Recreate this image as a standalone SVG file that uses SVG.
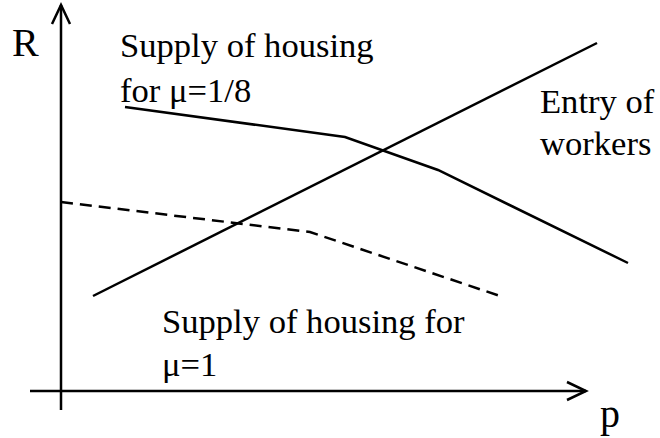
<svg xmlns="http://www.w3.org/2000/svg" width="660" height="438" viewBox="0 0 660 438">
<style>
.ln{fill:none;stroke:#000;stroke-width:2.5;stroke-linejoin:miter}
.dash{stroke-dasharray:12 7}
.t{font-family:"Liberation Serif","Times New Roman",serif;font-size:34.6px;fill:#000}
.ax{font-family:"Liberation Serif","Times New Roman",serif;font-size:40px;fill:#000}
</style>
<rect width="660" height="438" fill="#fff"/>
<g id="axes">
<path class="ln" d="M61,410 V5"/>
<path class="ln" d="M52,24 L61,5 L70,24"/>
<path class="ln" d="M30,391 H586"/>
<path class="ln" d="M567,382 L586,391 L567,400"/>
<text class="ax" x="12" y="56">R</text>
<text class="ax" x="600" y="427">p</text>
</g>
<g id="connectors">
<polyline id="supply-1-8" class="ln" points="125,107 345,137 438,170 628,263"/>
<polyline id="entry" class="ln" points="93,296 597,43"/>
<polyline id="supply-1" class="ln dash" points="61,202 310,232 503,297"/>
</g>
<g id="label-supply-1-8">
<text class="t" x="120" y="57">Supply of housing</text>
<text class="t" x="120" y="102">for μ=1/8</text>
</g>
<g id="label-entry">
<text class="t" x="540" y="113">Entry of</text>
<text class="t" x="540" y="155">workers</text>
</g>
<g id="label-supply-1">
<text class="t" x="162" y="333">Supply of housing for</text>
<text class="t" x="162" y="376">μ=1</text>
</g>
</svg>
